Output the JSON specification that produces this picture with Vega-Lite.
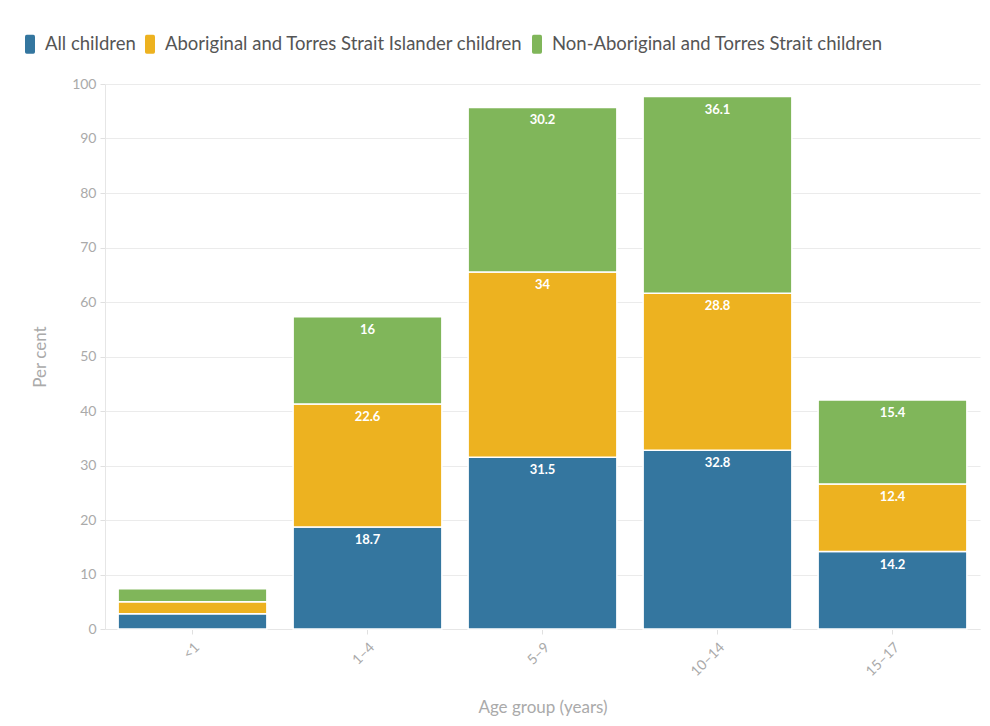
{
  "$schema": "https://vega.github.io/schema/vega-lite/v6.json",
  "width": 875,
  "height": 545,
  "autosize": {"type": "none"},
  "padding": {"left": 105, "top": 84, "right": 10, "bottom": 97},
  "background": "white",
  "config": {
    "font": "Lato",
    "view": {"stroke": null},
    "axis": {
      "labelColor": "#aaaaaa",
      "titleColor": "#aaaaaa",
      "labelFontSize": 14,
      "titleFontSize": 17,
      "titleFontWeight": "normal",
      "gridColor": "#ebebeb",
      "domainColor": "#e6e6e6",
      "tickColor": "#e0e0e0"
    }
  },
  "data": {
    "values": [
      {"age": "<1", "group": "All children", "value": 2.8},
      {"age": "<1", "group": "Aboriginal and Torres Strait Islander children", "value": 2.2},
      {"age": "<1", "group": "Non-Aboriginal and Torres Strait children", "value": 2.4},
      {"age": "1–4", "group": "All children", "value": 18.7},
      {"age": "1–4", "group": "Aboriginal and Torres Strait Islander children", "value": 22.6},
      {"age": "1–4", "group": "Non-Aboriginal and Torres Strait children", "value": 16},
      {"age": "5–9", "group": "All children", "value": 31.5},
      {"age": "5–9", "group": "Aboriginal and Torres Strait Islander children", "value": 34},
      {"age": "5–9", "group": "Non-Aboriginal and Torres Strait children", "value": 30.2},
      {"age": "10–14", "group": "All children", "value": 32.8},
      {"age": "10–14", "group": "Aboriginal and Torres Strait Islander children", "value": 28.8},
      {"age": "10–14", "group": "Non-Aboriginal and Torres Strait children", "value": 36.1},
      {"age": "15–17", "group": "All children", "value": 14.2},
      {"age": "15–17", "group": "Aboriginal and Torres Strait Islander children", "value": 12.4},
      {"age": "15–17", "group": "Non-Aboriginal and Torres Strait children", "value": 15.4}
    ]
  },
  "transform": [
    {"calculate": "indexof(['All children','Aboriginal and Torres Strait Islander children','Non-Aboriginal and Torres Strait children'], datum.group)", "as": "stackOrder"}
  ],
  "encoding": {
    "x": {
      "field": "age",
      "type": "nominal",
      "sort": ["<1", "1–4", "5–9", "10–14", "15–17"],
      "scale": {"paddingInner": 0.15, "paddingOuter": 0.075},
      "axis": {
        "title": "Age group (years)",
        "labelAngle": -45,
        "labelPadding": 6,
        "titleY": 70,
        "tickSize": 5,
        "grid": false
      }
    },
    "y": {
      "field": "value",
      "type": "quantitative",
      "stack": "zero",
      "scale": {"domain": [0, 100]},
      "axis": {
        "title": "Per cent",
        "values": [0, 10, 20, 30, 40, 50, 60, 70, 80, 90, 100],
        "tickSize": 5,
        "labelPadding": 4,
        "titleX": -56,
        "domain": true
      }
    },
    "order": {"field": "stackOrder", "type": "quantitative"}
  },
  "layer": [
    {
      "mark": {"type": "bar", "stroke": "white", "strokeWidth": 1.5, "opacity": 1},
      "encoding": {
        "color": {
          "field": "group",
          "type": "nominal",
          "sort": ["All children", "Aboriginal and Torres Strait Islander children", "Non-Aboriginal and Torres Strait children"],
          "scale": {
            "domain": ["All children", "Aboriginal and Torres Strait Islander children", "Non-Aboriginal and Torres Strait children"],
            "range": ["#34769f", "#edb220", "#80b65a"]
          },
          "legend": {
            "title": null,
            "orient": "none",
            "direction": "horizontal",
            "legendX": -85,
            "legendY": -50,
            "symbolType": "M-0.33,-0.95H0.33Q0.5,-0.95 0.5,-0.78V0.78Q0.5,0.95 0.33,0.95H-0.33Q-0.5,0.95 -0.5,0.78V-0.78Q-0.5,-0.95 -0.33,-0.95Z",
            "symbolSize": 400,
            "symbolOpacity": 1,
            "symbolStrokeWidth": 0,
            "labelFontSize": 18.5,
            "labelColor": "#555555",
            "labelOffset": 5,
            "labelLimit": 0,
            "columnPadding": 4,
            "symbolOffset": 0
          }
        }
      }
    },
    {
      "transform": [{"filter": "datum.value >= 5"}],
      "mark": {"type": "text", "color": "white", "fontWeight": "bold", "fontSize": 13, "dy": 13, "baseline": "middle"},
      "encoding": {
        "detail": {"field": "group", "type": "nominal"},
        "text": {"field": "value", "type": "quantitative"}
      }
    }
  ]
}
